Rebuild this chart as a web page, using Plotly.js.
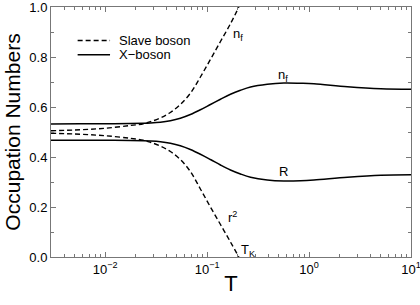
<!DOCTYPE html>
<html>
<head>
<meta charset="utf-8">
<script src="https://cdn.plot.ly/plotly-3.0.1.min.js"></script>
<style>html,body{margin:0;padding:0;background:#fff;}#chart{width:420px;height:305px;}</style>
</head>
<body>
<div id="chart"></div>
<script>
// Temperatures (log scale) and occupation numbers
const T_x = [0.00294, 0.00568, 0.01, 0.0176, 0.0237, 0.0277, 0.0348, 0.0436, 0.0546, 0.0685, 0.0859, 0.1077, 0.1352, 0.1694, 0.2123, 0.2667, 0.389, 0.566, 0.826, 1.117, 2.38, 5.06, 10];
const nf_X = [0.532, 0.533, 0.533, 0.534, 0.535, 0.536, 0.539, 0.545, 0.555, 0.570, 0.589, 0.610, 0.631, 0.651, 0.667, 0.680, 0.691, 0.696, 0.695, 0.693, 0.681, 0.673, 0.671];
const R_X  = [0.467, 0.467, 0.467, 0.466, 0.465, 0.464, 0.461, 0.455, 0.445, 0.430, 0.411, 0.390, 0.368, 0.348, 0.332, 0.319, 0.308, 0.304, 0.305, 0.308, 0.319, 0.327, 0.329];

const T_sb = [0.00294, 0.00568, 0.01, 0.0176, 0.0237, 0.0277, 0.0348, 0.0436, 0.0546, 0.0685, 0.0859, 0.1077, 0.1352, 0.1694, 0.2047];
const nf_sb = [0.505, 0.509, 0.515, 0.526, 0.533, 0.541, 0.556, 0.578, 0.610, 0.655, 0.720, 0.790, 0.862, 0.933, 1.0];
const r2_sb = [0.495, 0.491, 0.485, 0.475, 0.467, 0.459, 0.444, 0.422, 0.390, 0.342, 0.272, 0.200, 0.130, 0.060, 0.0];

const xTickVals = [0.01, 0.1, 1, 10];
const xTickText = ['10<sup>−2</sup>', '10<sup>−1</sup>', '10<sup>0</sup>', '10<sup>1</sup>'];
const yTickVals = [0, 0.2, 0.4, 0.6, 0.8, 1.0];
const yTickText = ['0.0', '0.2', '0.4', '0.6', '0.8', '1.0'];
const legendNames = ['Slave boson', 'X−boson'];

const FONT = 'Liberation Sans, Arial, Helvetica, sans-serif';
const dashStyle = '5px,3px';

const traces = [
  {x: T_sb, y: nf_sb, mode: 'lines', line: {color: '#000', width: 1.4, dash: dashStyle, shape: 'spline', smoothing: 1}, name: legendNames[0], showlegend: false, hoverinfo: 'skip'},
  {x: T_sb, y: r2_sb, mode: 'lines', line: {color: '#000', width: 1.4, dash: dashStyle, shape: 'spline', smoothing: 1}, name: legendNames[0], showlegend: false, hoverinfo: 'skip'},
  {x: T_x, y: nf_X, mode: 'lines', line: {color: '#000', width: 1.5, shape: 'spline', smoothing: 1}, name: legendNames[1], showlegend: false, hoverinfo: 'skip'},
  {x: T_x, y: R_X, mode: 'lines', line: {color: '#000', width: 1.5, shape: 'spline', smoothing: 1}, name: legendNames[1], showlegend: false, hoverinfo: 'skip'}
];

const layout = {
  width: 420, height: 305,
  margin: {l: 51, r: 9, t: 7, b: 48},
  paper_bgcolor: '#fff', plot_bgcolor: '#fff',
  font: {family: FONT, size: 13, color: '#000'},
  showlegend: false,
  xaxis: {
    type: 'log', range: [Math.log10(0.00294), 1],
    tickvals: xTickVals, ticktext: xTickText,
    ticks: 'inside', ticklen: 5, tickcolor: '#777', tickwidth: 1,
    minor: {ticks: 'inside', ticklen: 3, tickcolor: '#777', dtick: 'D1', showgrid: false},
    showline: true, linecolor: '#777', linewidth: 1, mirror: 'allticks',
    showgrid: false, zeroline: false,
    ticklabeloverflow: 'allow',
    tickfont: {family: FONT, size: 13},
    title: {text: 'T', font: {family: FONT, size: 22}, standoff: 0}
  },
  yaxis: {
    range: [0, 1],
    tickvals: yTickVals, ticktext: yTickText,
    ticks: 'inside', ticklen: 5, tickcolor: '#777', tickwidth: 1,
    minor: {ticks: 'inside', ticklen: 3, tickcolor: '#777', dtick: 0.1, showgrid: false},
    showline: true, linecolor: '#777', linewidth: 1, mirror: 'allticks',
    showgrid: false, zeroline: false,
    ticklabeloverflow: 'allow',
    tickfont: {family: FONT, size: 13},
    title: {text: 'Occupation Numbers', font: {family: FONT, size: 21}, standoff: 2}
  },
  shapes: [
    {type: 'line', xref: 'paper', yref: 'paper', x0: 0.074, x1: 0.164, y0: 0.866, y1: 0.866, line: {color: '#000', width: 1.4, dash: dashStyle}},
    {type: 'line', xref: 'paper', yref: 'paper', x0: 0.074, x1: 0.164, y0: 0.809, y1: 0.809, line: {color: '#000', width: 1.5}}
  ],
  annotations: [
    {xref: 'paper', yref: 'paper', x: 0.183, y: 0.866, text: legendNames[0], showarrow: false, xanchor: 'left', yanchor: 'middle', font: {family: FONT, size: 13}},
    {xref: 'paper', yref: 'paper', x: 0.183, y: 0.809, text: legendNames[1], showarrow: false, xanchor: 'left', yanchor: 'middle', font: {family: FONT, size: 13}},
    {xref: 'paper', yref: 'paper', x: 0.50, y: 0.89, text: 'n<sub>f</sub>', showarrow: false, xanchor: 'left', yanchor: 'middle', font: {family: FONT, size: 13}},
    {xref: 'paper', yref: 'paper', x: 0.625, y: 0.725, text: 'n<sub>f</sub>', showarrow: false, xanchor: 'left', yanchor: 'middle', font: {family: FONT, size: 13}},
    {xref: 'paper', yref: 'paper', x: 0.627, y: 0.34, text: 'R', showarrow: false, xanchor: 'left', yanchor: 'middle', font: {family: FONT, size: 13}},
    {xref: 'paper', yref: 'paper', x: 0.485, y: 0.16, text: 'r<sup>2</sup>', showarrow: false, xanchor: 'left', yanchor: 'middle', font: {family: FONT, size: 13}},
    {xref: 'paper', yref: 'paper', x: 0.522, y: 0.025, text: 'T<sub>K</sub>', showarrow: false, xanchor: 'left', yanchor: 'middle', font: {family: FONT, size: 13}}
  ]
};

Plotly.newPlot('chart', traces, layout, {displayModeBar: false, staticPlot: true});
</script>
</body>
</html>
